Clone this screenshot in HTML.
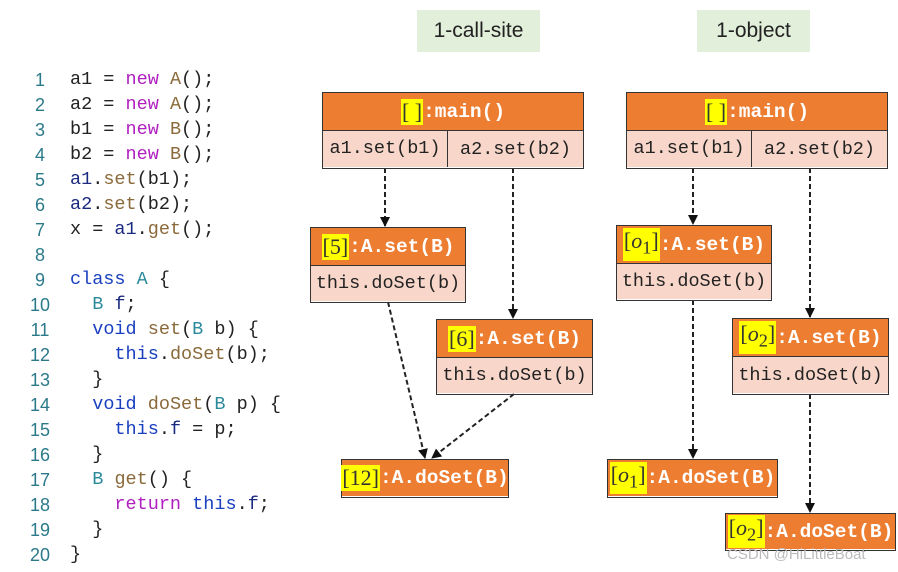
<!DOCTYPE html>
<html><head><meta charset="utf-8"><style>
body{margin:0;width:898px;height:572px;background:#fff;position:relative;overflow:hidden;font-family:"Liberation Mono",monospace}
.code{position:absolute;left:0;top:0}
.ln{position:absolute;left:20px;width:40px;text-align:center;color:#2b7a8a;font-size:18px;font-family:"Liberation Sans",sans-serif}
.cd{position:absolute;left:70px;font-size:18.5px;color:#222;white-space:pre}
.k{color:#b020c0}.f{color:#8a6a3a}.v{color:#1a2a80}.t{color:#2a8a9a}
.box{position:absolute;border:1.5px solid #333;box-sizing:border-box}
.h{background:#ED7D31;color:#fff;font-weight:bold;font-size:19.5px;display:flex;align-items:center;justify-content:center;white-space:pre;box-sizing:border-box;border-bottom:1.5px solid #333}
.r{background:#F8D7CA;color:#222;font-size:18.5px;display:flex;align-items:center;justify-content:center;white-space:pre}
.y{background:#ffff00;color:#333;font-family:"Liberation Serif",serif;font-weight:normal;font-size:22px;line-height:26px;padding:0 1px}
.y i sub{font-size:12px}
.title{position:absolute;background:#e2efda;font-family:"Liberation Sans",sans-serif;font-size:21px;color:#222;display:flex;align-items:center;justify-content:center}
</style></head><body>
<div class="title" style="left:417px;top:10px;width:123px;height:42px">1-call-site</div>
<div class="title" style="left:697px;top:10px;width:113px;height:42px">1-object</div>

<div class="code">
<div class="ln" style="top:70px">1</div><div class="cd" style="top:69px">a1 = <span class="k">new</span> <span class="f">A</span>();</div>
<div class="ln" style="top:95px">2</div><div class="cd" style="top:94px">a2 = <span class="k">new</span> <span class="f">A</span>();</div>
<div class="ln" style="top:120px">3</div><div class="cd" style="top:119px">b1 = <span class="k">new</span> <span class="f">B</span>();</div>
<div class="ln" style="top:145px">4</div><div class="cd" style="top:144px">b2 = <span class="k">new</span> <span class="f">B</span>();</div>
<div class="ln" style="top:170px">5</div><div class="cd" style="top:169px"><span class="v">a1</span>.<span class="f">set</span>(b1);</div>
<div class="ln" style="top:195px">6</div><div class="cd" style="top:194px"><span class="v">a2</span>.<span class="f">set</span>(b2);</div>
<div class="ln" style="top:220px">7</div><div class="cd" style="top:219px">x = <span class="v">a1</span>.<span class="f">get</span>();</div>
<div class="ln" style="top:245px">8</div>
<div class="ln" style="top:270px">9</div><div class="cd" style="top:269px"><span class="k" style="color:#1a40c0">class</span> <span class="t">A</span> {</div>
<div class="ln" style="top:295px">10</div><div class="cd" style="top:294px">  <span class="t">B</span> <span class="v">f</span>;</div>
<div class="ln" style="top:320px">11</div><div class="cd" style="top:319px">  <span style="color:#1a40c0">void</span> <span class="f">set</span>(<span class="t">B</span> b) {</div>
<div class="ln" style="top:345px">12</div><div class="cd" style="top:344px">    <span style="color:#1a40c0">this</span>.<span class="f">doSet</span>(b);</div>
<div class="ln" style="top:370px">13</div><div class="cd" style="top:369px">  }</div>
<div class="ln" style="top:395px">14</div><div class="cd" style="top:394px">  <span style="color:#1a40c0">void</span> <span class="f">doSet</span>(<span class="t">B</span> p) {</div>
<div class="ln" style="top:420px">15</div><div class="cd" style="top:419px">    <span style="color:#1a40c0">this</span>.<span class="v">f</span> = p;</div>
<div class="ln" style="top:445px">16</div><div class="cd" style="top:444px">  }</div>
<div class="ln" style="top:470px">17</div><div class="cd" style="top:469px">  <span class="t">B</span> <span class="f">get</span>() {</div>
<div class="ln" style="top:495px">18</div><div class="cd" style="top:494px">    <span class="k">return</span> <span style="color:#1a40c0">this</span>.<span class="v">f</span>;</div>
<div class="ln" style="top:520px">19</div><div class="cd" style="top:519px">  }</div>
<div class="ln" style="top:545px">20</div><div class="cd" style="top:544px">}</div>
</div>

<svg style="position:absolute;left:0;top:0" width="898" height="572">
<defs><marker id="a" markerWidth="10" markerHeight="10" refX="9" refY="5" orient="auto" markerUnits="userSpaceOnUse"><path d="M0,0 L10,5 L0,10z" fill="#111"/></marker></defs>
<g stroke="#222" stroke-width="2" stroke-dasharray="5,3" fill="none" marker-end="url(#a)">
<line x1="385" y1="168" x2="385" y2="226"/>
<line x1="513" y1="168" x2="513" y2="318"/>
<line x1="388" y1="302" x2="425" y2="458"/>
<line x1="514" y1="394" x2="432" y2="458"/>
<line x1="693" y1="168" x2="693" y2="224"/>
<line x1="810" y1="168" x2="810" y2="317"/>
<line x1="693" y1="300" x2="693" y2="458"/>
<line x1="810" y1="394" x2="810" y2="512"/>
</g></svg>

<div class="box" style="left:322px;top:92px;width:262px;height:77px">
<div class="h" style="height:38px"><span class="y">[ ]</span>:main()</div>
<div class="r" style="height:36px;justify-content:flex-start"><span style="width:124px;text-align:center;border-right:1.5px solid #333;line-height:36px">a1.set(b1)</span><span style="flex:1;text-align:center">a2.set(b2)</span></div>
</div>
<div class="box" style="left:310px;top:227px;width:156px;height:76px">
<div class="h" style="height:38px"><span class="y">[5]</span>:A.set(B)</div><div class="r" style="height:35px">this.doSet(b)</div></div>
<div class="box" style="left:436px;top:319px;width:157px;height:76px">
<div class="h" style="height:38px"><span class="y">[6]</span>:A.set(B)</div><div class="r" style="height:35px">this.doSet(b)</div></div>
<div class="box" style="left:341px;top:459px;width:168px;height:39px">
<div class="h" style="height:36px;border:none"><span class="y">[12]</span>:A.doSet(B)</div></div>

<div class="box" style="left:626px;top:92px;width:262px;height:77px">
<div class="h" style="height:38px"><span class="y">[ ]</span>:main()</div>
<div class="r" style="height:36px;justify-content:flex-start"><span style="width:124px;text-align:center;border-right:1.5px solid #333;line-height:36px">a1.set(b1)</span><span style="flex:1;text-align:center">a2.set(b2)</span></div>
</div>
<div class="box" style="left:616px;top:225px;width:156px;height:76px">
<div class="h" style="height:38px"><span class="y">[<i>o</i><sub>1</sub>]</span>:A.set(B)</div><div class="r" style="height:35px">this.doSet(b)</div></div>
<div class="box" style="left:732px;top:318px;width:157px;height:77px">
<div class="h" style="height:38px"><span class="y">[<i>o</i><sub>2</sub>]</span>:A.set(B)</div><div class="r" style="height:36px">this.doSet(b)</div></div>
<div class="box" style="left:607px;top:459px;width:171px;height:39px">
<div class="h" style="height:36px;border:none"><span class="y">[<i>o</i><sub>1</sub>]</span>:A.doSet(B)</div></div>
<div class="box" style="left:725px;top:513px;width:171px;height:38px">
<div class="h" style="height:35px;border:none"><span class="y">[<i>o</i><sub>2</sub>]</span>:A.doSet(B)</div></div>
<div style="position:absolute;left:727px;top:546px;font-family:'Liberation Sans',sans-serif;font-size:15px;color:#bbb">CSDN @HiLittleBoat</div>
</body></html>
